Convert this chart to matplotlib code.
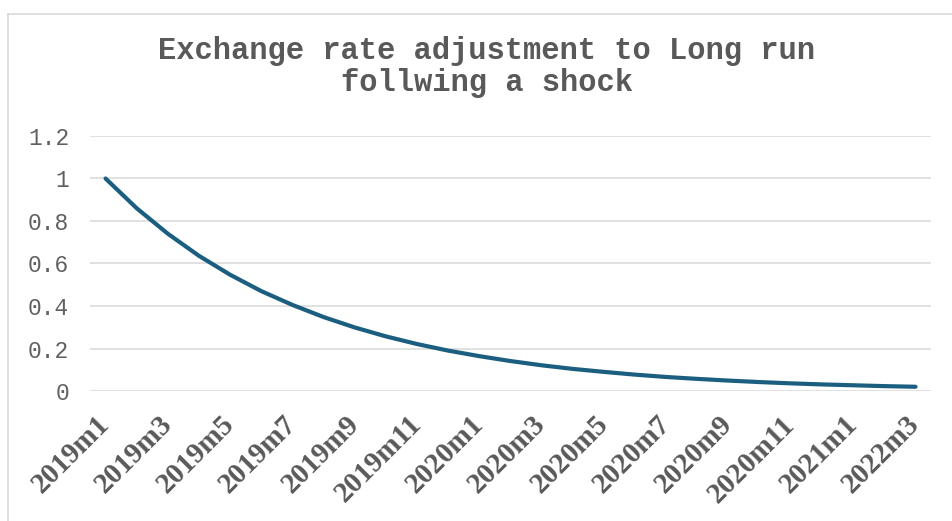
import matplotlib.pyplot as plt

# monthly periods, every second one is labelled on the axis
periods = ['2019m1', '2019m2', '2019m3', '2019m4', '2019m5', '2019m6', '2019m7',
           '2019m8', '2019m9', '2019m10', '2019m11', '2019m12', '2020m1', '2020m2',
           '2020m3', '2020m4', '2020m5', '2020m6', '2020m7', '2020m8', '2020m9',
           '2020m10', '2020m11', '2020m12', '2021m1', '2021m2', '2022m3']
tick_labels = ['2019m1', '2019m3', '2019m5', '2019m7', '2019m9', '2019m11', '2020m1',
               '2020m3', '2020m5', '2020m7', '2020m9', '2020m11', '2021m1', '2022m3']
gap = [1.0, 0.86, 0.74, 0.636, 0.547, 0.47, 0.405, 0.348, 0.299, 0.257, 0.221,
       0.19, 0.164, 0.141, 0.121, 0.104, 0.09, 0.077, 0.066, 0.057, 0.049,
       0.042, 0.036, 0.031, 0.027, 0.023, 0.02]
y_ticks = [0, 0.2, 0.4, 0.6, 0.8, 1, 1.2]

grey = '#595959'
fig = plt.figure(figsize=(9.53, 5.21), dpi=100)
ax = fig.add_axes([0.0944, 0.2495, 0.8826, 0.4895])

x = list(range(len(periods)))
ax.plot(x, gap, color='#1b5e80', linewidth=3.0, solid_capstyle='round', zorder=3)

ax.set_xlim(-0.5, len(periods) - 0.5)
ax.set_ylim(0, 1.2)
ax.set_yticks(y_ticks)
ax.set_yticklabels(['0', '0.2', '0.4', '0.6', '0.8', '1', '1.2'],
                   family='Liberation Mono', fontsize=16.5, color='#606060')
ax.yaxis.grid(True, color='#d9d9d9', linewidth=1.1)
ax.set_axisbelow(True)
ax.tick_params(axis='y', length=0, pad=15)
ax.tick_params(axis='x', length=0, pad=21)
for s in ax.spines.values():
    s.set_visible(False)

ax.set_xticks(x[::2])
ax.set_xticklabels(tick_labels, rotation=45, ha='right', va='center',
                   rotation_mode='anchor', family='Liberation Serif',
                   fontweight='bold', fontsize=21, color=grey)

fig.text(0.511, 0.871, 'Exchange rate adjustment to Long run\nfollwing a shock',
         ha='center', va='center', family='Liberation Mono', fontweight='bold',
         fontsize=22, color=grey, linespacing=1.1)

# chart frame: left and top edges only
fig.add_artist(plt.Line2D([8.5 / 953, 8.5 / 953], [0, 1 - 13.5 / 521],
                          color='#d9d9d9', linewidth=1.2))
fig.add_artist(plt.Line2D([8.5 / 953, 1], [1 - 13.5 / 521, 1 - 13.5 / 521],
                          color='#d9d9d9', linewidth=1.2))

fig.savefig('out.png', dpi=100, facecolor='white')
